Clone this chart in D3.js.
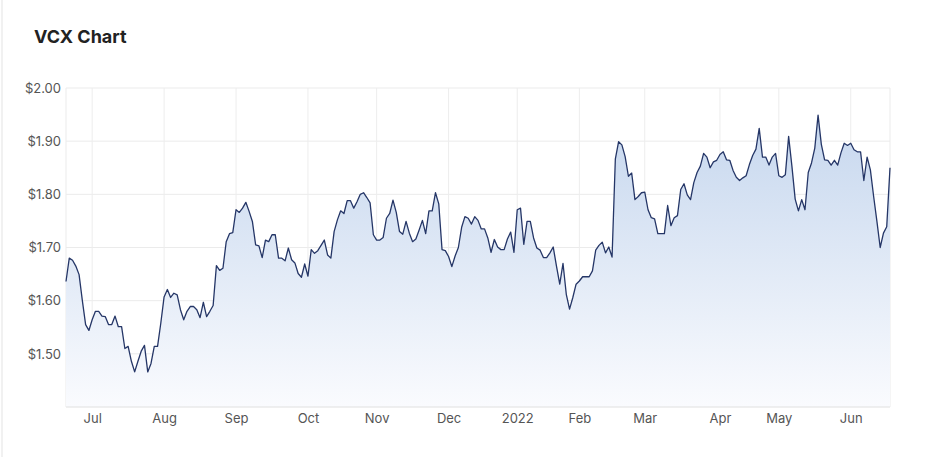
<!DOCTYPE html>
<html>
<head>
<meta charset="utf-8">
<script src="https://cdn.jsdelivr.net/npm/d3@7"></script>
<style>
  body { margin: 0; background: #fff; font-family: Inter, "Noto Sans", sans-serif; }
  svg { display: block; }
</style>
</head>
<body>
<div id="chart"></div>
<script>
// VCX daily close, one value per trading day (21 Jun 2021 -> 20 Jun 2022)
const prices = [
  1.636, 1.680, 1.676, 1.665, 1.649, 1.600, 1.555, 1.544, 1.564, 1.580,
  1.580, 1.571, 1.570, 1.555, 1.555, 1.571, 1.551, 1.551, 1.510, 1.514,
  1.486, 1.466, 1.486, 1.505, 1.516, 1.466, 1.482, 1.514, 1.514, 1.558,
  1.607, 1.621, 1.606, 1.614, 1.611, 1.583, 1.564, 1.580, 1.589, 1.589,
  1.583, 1.568, 1.597, 1.570, 1.580, 1.591, 1.666, 1.657, 1.661, 1.711,
  1.726, 1.728, 1.771, 1.766, 1.774, 1.785, 1.768, 1.749, 1.705, 1.703,
  1.681, 1.714, 1.711, 1.724, 1.724, 1.680, 1.680, 1.675, 1.699, 1.677,
  1.671, 1.651, 1.644, 1.669, 1.646, 1.696, 1.689, 1.694, 1.704, 1.714,
  1.686, 1.680, 1.730, 1.752, 1.769, 1.764, 1.788, 1.788, 1.774, 1.786,
  1.800, 1.803, 1.794, 1.784, 1.724, 1.714, 1.714, 1.719, 1.755, 1.764,
  1.789, 1.766, 1.730, 1.725, 1.749, 1.727, 1.711, 1.716, 1.733, 1.751,
  1.726, 1.769, 1.769, 1.803, 1.782, 1.696, 1.694, 1.683, 1.664, 1.684,
  1.700, 1.738, 1.758, 1.755, 1.744, 1.758, 1.751, 1.735, 1.735, 1.718,
  1.691, 1.715, 1.701, 1.696, 1.696, 1.716, 1.729, 1.691, 1.771, 1.774,
  1.706, 1.749, 1.749, 1.718, 1.699, 1.695, 1.681, 1.681, 1.690, 1.701,
  1.665, 1.631, 1.670, 1.612, 1.584, 1.606, 1.631, 1.637, 1.645, 1.645,
  1.645, 1.656, 1.695, 1.704, 1.710, 1.690, 1.701, 1.682, 1.866, 1.899,
  1.893, 1.871, 1.834, 1.840, 1.790, 1.796, 1.803, 1.804, 1.771, 1.756,
  1.754, 1.726, 1.726, 1.726, 1.779, 1.741, 1.756, 1.760, 1.809, 1.820,
  1.799, 1.790, 1.822, 1.841, 1.853, 1.877, 1.870, 1.850, 1.861, 1.864,
  1.875, 1.880, 1.865, 1.864, 1.845, 1.832, 1.826, 1.831, 1.835, 1.856,
  1.873, 1.885, 1.924, 1.870, 1.870, 1.855, 1.870, 1.877, 1.835, 1.832,
  1.837, 1.909, 1.853, 1.791, 1.769, 1.790, 1.771, 1.841, 1.859, 1.887,
  1.949, 1.894, 1.865, 1.864, 1.855, 1.864, 1.855, 1.878, 1.896, 1.892,
  1.896, 1.884, 1.880, 1.880, 1.826, 1.870, 1.846, 1.796, 1.749, 1.700,
  1.727, 1.739, 1.850
];

// month labels and the trading-day index where each month starts
const monthLabels = ["Jul", "Aug", "Sep", "Oct", "Nov", "Dec", "2022", "Feb", "Mar", "Apr", "May", "Jun"];
const monthIndex = [8, 30, 52, 74, 95, 117, 138, 157, 177, 200, 218, 240];

const priceTicks = [1.5, 1.6, 1.7, 1.8, 1.9, 2.0];

const width = 932, height = 457;
const margin = {top: 88, right: 42, bottom: 50, left: 66};

const svg = d3.select("#chart").append("svg")
  .attr("width", width)
  .attr("height", height);

// card edge
svg.append("line")
  .attr("x1", 2).attr("x2", 2).attr("y1", 0).attr("y2", height)
  .attr("stroke", "#e3e3e3");

svg.append("text")
  .attr("x", 34).attr("y", 43)
  .attr("font-size", "18px")
  .attr("font-weight", 700)
  .attr("fill", "#222")
  .text("VCX Chart");

const x = d3.scaleLinear()
  .domain([0, prices.length - 1])
  .range([margin.left, width - margin.right]);

const y = d3.scaleLinear()
  .domain([1.4, 2.0])
  .range([height - margin.bottom, margin.top]);

// gradient for the area
const defs = svg.append("defs");
const grad = defs.append("linearGradient")
  .attr("id", "fillGrad")
  .attr("x1", 0).attr("x2", 0).attr("y1", 0).attr("y2", 1);
grad.append("stop").attr("offset", "0%").attr("stop-color", "#c6d7ee");
grad.append("stop").attr("offset", "100%").attr("stop-color", "#fafbfe");

// grid
const grid = svg.append("g");
grid.selectAll("line.h")
  .data(priceTicks)
  .enter().append("line")
    .attr("x1", margin.left).attr("x2", width - margin.right)
    .attr("y1", d => y(d)).attr("y2", d => y(d))
    .attr("stroke", "#ebebeb");

grid.selectAll("line.v")
  .data(monthIndex)
  .enter().append("line")
    .attr("x1", d => x(d)).attr("x2", d => x(d))
    .attr("y1", margin.top).attr("y2", height - margin.bottom)
    .attr("stroke", "#ededed");

// plot edges
grid.append("line")
  .attr("x1", margin.left).attr("x2", margin.left)
  .attr("y1", margin.top).attr("y2", height - margin.bottom)
  .attr("stroke", "#ebebeb");
grid.append("line")
  .attr("x1", width - margin.right).attr("x2", width - margin.right)
  .attr("y1", margin.top).attr("y2", height - margin.bottom)
  .attr("stroke", "#ebebeb");

const area = d3.area()
  .x((d, i) => x(i))
  .y0(y(1.4))
  .y1(d => y(d));

svg.append("path")
  .datum(prices)
  .attr("d", area)
  .attr("fill", "url(#fillGrad)");

const line = d3.line()
  .x((d, i) => x(i))
  .y(d => y(d));

svg.append("path")
  .datum(prices)
  .attr("d", line)
  .attr("fill", "none")
  .attr("stroke", "#253667")
  .attr("stroke-width", 1.3)
  .attr("stroke-linejoin", "round");

// y axis
const yAxis = svg.append("g")
  .attr("transform", `translate(${margin.left},0)`)
  .call(d3.axisLeft(y).tickValues(priceTicks).tickSize(0).tickPadding(5)
    .tickFormat(d => "$" + d.toFixed(2)));
yAxis.select(".domain").remove();
yAxis.selectAll("text")
  .attr("font-family", "Inter, sans-serif")
  .attr("font-size", "13px")
  .attr("fill", "#555");

// x axis
const xAxis = svg.append("g")
  .attr("transform", `translate(0,${height - margin.bottom})`)
  .call(d3.axisBottom(x).tickValues(monthIndex).tickSize(0).tickPadding(7)
    .tickFormat((d, i) => monthLabels[i]));
xAxis.select(".domain")
  .attr("d", `M${margin.left},0H${width - margin.right}`)
  .attr("stroke", "#e0e0e0");
xAxis.selectAll("text")
  .attr("font-family", "Inter, sans-serif")
  .attr("font-size", "13px")
  .attr("fill", "#555");
</script>
</body>
</html>
